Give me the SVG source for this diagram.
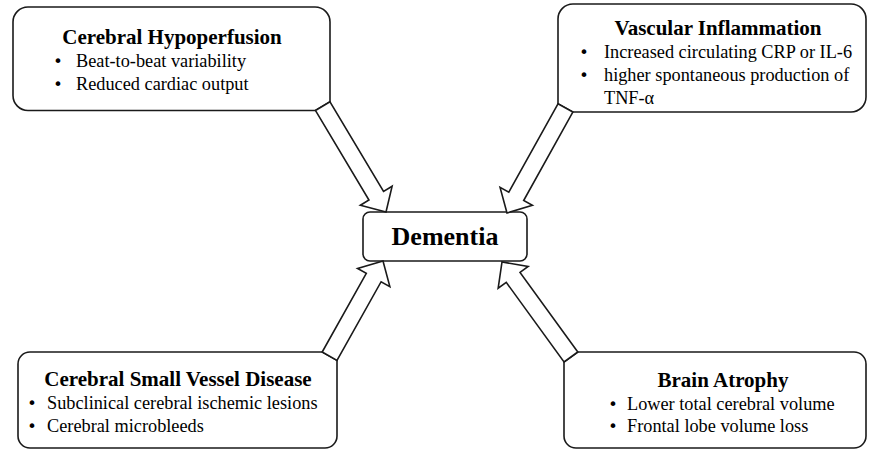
<svg xmlns="http://www.w3.org/2000/svg" width="869" height="450" viewBox="0 0 869 450">
<style>
.box{fill:#fff;stroke:#1a1a1a;stroke-width:1.6;stroke-linejoin:round}
.arr{fill:#fff;stroke:#1a1a1a;stroke-width:1.6;stroke-linejoin:miter}
.t{font-family:"Liberation Serif","Times New Roman",serif;font-size:21px;font-weight:bold;fill:#000;text-anchor:middle}
.b{font-family:"Liberation Serif","Times New Roman",serif;font-size:18.3px;fill:#000}
.d{font-family:"Liberation Serif","Times New Roman",serif;font-size:26px;font-weight:bold;fill:#000;text-anchor:middle}
.dot{font-family:"DejaVu Sans",sans-serif;font-size:16px;fill:#000;text-anchor:middle}
</style>
<rect width="869" height="450" fill="#fff"/>
<g id="node-hypoperfusion">
<path class="box" d="M28,7 H315 A15,15 0 0 1 330,22 V101.74 L315.41,110.46 H28 A15,15 0 0 1 13,95.46 V22 A15,15 0 0 1 28,7 Z"/>
<text class="t" x="172" y="44">Cerebral Hypoperfusion</text>
<text class="dot" x="58" y="67">•</text>
<text class="b" x="76" y="67">Beat-to-beat variability</text>
<text class="dot" x="58" y="90">•</text>
<text class="b" x="76" y="90">Reduced cardiac output</text>
</g>
<g id="node-inflammation">
<path class="box" d="M573,4 H851 A15,15 0 0 1 866,19 V97 A15,15 0 0 1 851,112 H572.83 L558,103.77 V19 A15,15 0 0 1 573,4 Z"/>
<text class="t" x="718" y="35">Vascular Inflammation</text>
<text class="dot" x="584" y="58">•</text>
<text class="b" x="604" y="58">Increased circulating CRP or IL-6</text>
<text class="dot" x="584" y="81">•</text>
<text class="b" x="604" y="81">higher spontaneous production of</text>
<text class="b" x="604" y="104">TNF-α</text>
</g>
<g id="node-svd">
<path class="box" d="M30,352 H322.19 L337,360.36 V436 A12,12 0 0 1 325,448 H30 A12,12 0 0 1 18,436 V364 A12,12 0 0 1 30,352 Z"/>
<text class="t" x="178" y="386">Cerebral Small Vessel Disease</text>
<text class="dot" x="32" y="409">•</text>
<text class="b" x="47" y="409">Subclinical cerebral ischemic lesions</text>
<text class="dot" x="32" y="432">•</text>
<text class="b" x="47" y="432">Cerebral microbleeds</text>
</g>
<g id="node-atrophy">
<path class="box" d="M564,361.99 L577.78,352 H854 A12,12 0 0 1 866,364 V436 A12,12 0 0 1 854,448 H576 A12,12 0 0 1 564,436 Z"/>
<text class="t" x="723" y="387">Brain Atrophy</text>
<text class="dot" x="613" y="410">•</text>
<text class="b" x="627" y="410">Lower total cerebral volume</text>
<text class="dot" x="613" y="432">•</text>
<text class="b" x="627" y="432">Frontal lobe volume loss</text>
</g>
<g id="node-dementia">
<rect class="box" x="363" y="212" width="164" height="49" rx="7"/>
<text class="d" x="445" y="245">Dementia</text>
</g>
<g id="connectors">
<polygon class="arr" points="315.41,110.46 368.96,200.06 360.38,205.19 386,212 392.12,186.21 383.54,191.34 329.99,101.74"/>
<polygon class="arr" points="557.97,103.77 508.8,192.26 500.06,187.4 507,213 532.4,205.38 523.66,200.52 572.83,112.03"/>
<polygon class="arr" points="337.01,360.36 381.12,281.73 389.85,286.62 383,261 357.57,268.52 366.3,273.41 322.19,352.04"/>
<polygon class="arr" points="577.78,352.01 520.03,272.39 528.13,266.52 502,262 498.17,288.24 506.27,282.37 564.02,361.99"/>
</g>
</svg>
